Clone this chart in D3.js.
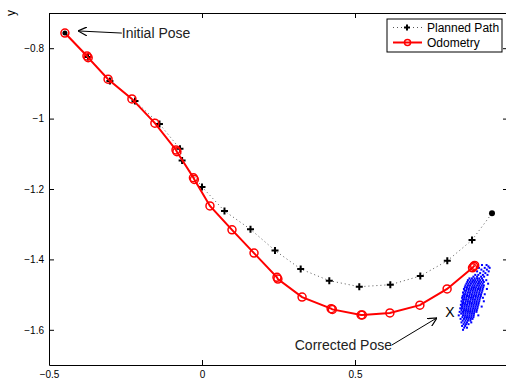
<!DOCTYPE html>
<html>
<head>
<meta charset="utf-8">
<script src="https://cdn.jsdelivr.net/npm/d3@7"></script>
<style>
  body { margin: 0; background: #fff; }
  text { font-family: "Liberation Sans", Arial, sans-serif; }
</style>
</head>
<body>
<svg id="chart" width="506" height="381"></svg>
<script>
// axis ranges and ticks
var xDomain = [-0.5, 1];
var yDomain = [-1.7, -0.7];
var xTicks = [-0.5, 0, 0.5, 1];
var yTicks = [-1.6, -1.4, -1.2, -1, -0.8];

// planned path (black + markers, dotted line)
var plannedPath = [
    [-0.448, -0.757], [-0.3725, -0.825], [-0.301, -0.893], [-0.219, -0.950],
    [-0.139, -1.015], [-0.072, -1.086], [-0.065, -1.119], [0.000, -1.194],
    [0.0735, -1.2625], [0.1585, -1.3145], [0.2386, -1.3747], [0.3225, -1.4273],
    [0.416, -1.4605], [0.514, -1.4776], [0.6154, -1.4719], [0.7134, -1.4472],
    [0.8016, -1.404], [0.8824, -1.3449], [0.9477, -1.269]
];

// odometry (red line with circles), some poses logged twice
var odometry = [
    [-0.448, -0.757], [-0.376, -0.822], [-0.372, -0.827], [-0.307, -0.888],
    [-0.229, -0.944], [-0.154, -1.013], [-0.085, -1.089], [-0.082, -1.094],
    [-0.028, -1.168], [-0.025, -1.173], [0.026, -1.248], [0.098, -1.316],
    [0.170, -1.382], [0.245, -1.451], [0.248, -1.456], [0.327, -1.507],
    [0.422, -1.540], [0.426, -1.542], [0.520, -1.558], [0.524, -1.558],
    [0.614, -1.552], [0.712, -1.530], [0.801, -1.484], [0.884, -1.424],
    [0.888, -1.420], [0.891, -1.417]
];

// particle cloud around the final pose, rows of [y, x, x, ...]
var particleRows = [
    [-1.416, 0.915, 0.930],
    [-1.420, 0.936],
    [-1.424, 0.905, 0.924, 0.940],
    [-1.429, 0.913, 0.931],
    [-1.434, 0.899, 0.920, 0.937],
    [-1.439, 0.909, 0.926],
    [-1.444, 0.893, 0.903, 0.918, 0.933],
    [-1.449, 0.887, 0.899, 0.912, 0.922],
    [-1.454, 0.874, 0.882, 0.891, 0.899, 0.906, 0.915],
    [-1.459, 0.869, 0.878, 0.886, 0.893, 0.901, 0.909, 0.918, 0.929],
    [-1.464, 0.867, 0.875, 0.883, 0.890, 0.897, 0.905, 0.913, 0.921],
    [-1.469, 0.864, 0.871, 0.879, 0.887, 0.894, 0.902, 0.909, 0.917, 0.935],
    [-1.474, 0.861, 0.869, 0.876, 0.884, 0.891, 0.899, 0.906, 0.914, 0.921],
    [-1.479, 0.859, 0.866, 0.874, 0.882, 0.889, 0.896, 0.904, 0.911, 0.919],
    [-1.484, 0.856, 0.865, 0.872, 0.880, 0.887, 0.894, 0.902, 0.909, 0.917, 0.931],
    [-1.489, 0.858, 0.863, 0.871, 0.878, 0.885, 0.893, 0.900, 0.908, 0.916],
    [-1.494, 0.853, 0.861, 0.869, 0.876, 0.884, 0.891, 0.898, 0.906, 0.914],
    [-1.499, 0.855, 0.860, 0.867, 0.875, 0.882, 0.890, 0.897, 0.905, 0.912, 0.924],
    [-1.504, 0.852, 0.858, 0.866, 0.873, 0.881, 0.888, 0.895, 0.903, 0.911],
    [-1.509, 0.850, 0.857, 0.864, 0.872, 0.879, 0.886, 0.894, 0.901, 0.909, 0.918],
    [-1.514, 0.852, 0.856, 0.863, 0.870, 0.878, 0.885, 0.892, 0.900, 0.907],
    [-1.519, 0.848, 0.854, 0.862, 0.869, 0.876, 0.884, 0.891, 0.898, 0.906, 0.921],
    [-1.524, 0.851, 0.853, 0.860, 0.868, 0.875, 0.882, 0.890, 0.897, 0.904],
    [-1.529, 0.846, 0.852, 0.859, 0.866, 0.874, 0.881, 0.888, 0.896, 0.903],
    [-1.534, 0.849, 0.851, 0.858, 0.865, 0.872, 0.880, 0.887, 0.894, 0.901, 0.914],
    [-1.539, 0.844, 0.850, 0.857, 0.864, 0.871, 0.878, 0.886, 0.893, 0.900],
    [-1.544, 0.848, 0.856, 0.863, 0.870, 0.877, 0.884, 0.891, 0.898],
    [-1.549, 0.842, 0.851, 0.855, 0.862, 0.869, 0.876, 0.883, 0.890, 0.897],
    [-1.554, 0.847, 0.854, 0.861, 0.868, 0.875, 0.882, 0.889],
    [-1.559, 0.839, 0.853, 0.860, 0.867, 0.874, 0.881, 0.888, 0.903],
    [-1.564, 0.851, 0.859, 0.866, 0.873, 0.880, 0.887],
    [-1.569, 0.845, 0.856, 0.864, 0.871, 0.878, 0.884],
    [-1.574, 0.852, 0.861, 0.869, 0.877],
    [-1.579, 0.848, 0.858, 0.866, 0.880],
    [-1.584, 0.855, 0.863, 0.871],
    [-1.589, 0.850, 0.860],
    [-1.594, 0.857, 0.866],
    [-1.600, 0.853]
];

// annotations: text position and arrow head
var initialLabel = { text: "Initial Pose", at: [-0.262, -0.757], head: [-0.405, -0.751] };
var correctedLabel = { text: "Corrected Pose", at: [0.621, -1.643], head: [0.768, -1.566] };
var correctedMark = [0.8105, -1.549];

var legendLabels = ["Planned Path", "Odometry"];

var svg = d3.select("#chart");
var margin = { left: 49, top: 13, right: 508, bottom: 365 };

var x = d3.scaleLinear().domain(xDomain).range([margin.left, margin.right]);
var y = d3.scaleLinear().domain(yDomain).range([margin.bottom, margin.top]);

var fmt = d3.format("");
// the label of the last x tick falls outside the window
var xFmt = function(d) { return d === 1 ? "" : fmt(d); };

// axes, ticks pointing inward like matlab
svg.append("g")
    .attr("transform", "translate(0," + margin.bottom + ")")
    .call(d3.axisBottom(x).tickValues(xTicks).tickSizeInner(-5).tickSizeOuter(0).tickPadding(6).tickFormat(xFmt));
svg.append("g")
    .attr("transform", "translate(" + margin.left + ",0)")
    .call(d3.axisLeft(y).tickValues(yTicks).tickSizeInner(-5).tickSizeOuter(0).tickPadding(5).tickFormat(fmt));
svg.append("g")
    .attr("transform", "translate(0," + margin.top + ")")
    .call(d3.axisTop(x).tickValues(xTicks).tickSizeInner(-5).tickSizeOuter(0).tickFormat(""));
svg.append("g")
    .attr("transform", "translate(" + margin.right + ",0)")
    .call(d3.axisRight(y).tickValues(yTicks).tickSizeInner(-5).tickSizeOuter(0).tickFormat(""));

svg.selectAll(".tick text").attr("font-size", 10).attr("fill", "#000")
    .style("font-family", "'Liberation Sans', Arial, sans-serif");
svg.selectAll(".domain").attr("stroke", "#000");

svg.append("text")
    .attr("transform", "translate(15,13) rotate(-90)")
    .attr("text-anchor", "middle")
    .attr("font-size", 12)
    .text("y");

var line = d3.line().x(d => x(d[0])).y(d => y(d[1]));

// planned path
svg.append("path")
    .datum(plannedPath)
    .attr("d", line)
    .attr("fill", "none")
    .attr("stroke", "#555")
    .attr("stroke-width", 1)
    .attr("stroke-dasharray", "1,3");

function plus(sel, size) {
    sel.append("path")
        .attr("d", "M" + (-size) + ",0H" + size + "M0," + (-size) + "V" + size)
        .attr("stroke", "#000")
        .attr("stroke-width", 2);
}

svg.append("g").selectAll("g")
    .data(plannedPath.slice(1, -1))
    .join("g")
    .attr("transform", d => "translate(" + x(d[0]) + "," + y(d[1]) + ")")
    .call(plus, 3.5);

// goal pose marker
svg.append("circle")
    .attr("cx", x(plannedPath[plannedPath.length - 1][0]))
    .attr("cy", y(plannedPath[plannedPath.length - 1][1]))
    .attr("r", 3)
    .attr("fill", "#000");

// particles
var particles = [];
particleRows.forEach(function(row) {
    for (var i = 1; i < row.length; i++) particles.push([row[i], row[0]]);
});
svg.append("g").selectAll("rect")
    .data(particles)
    .join("rect")
    .attr("x", d => x(d[0]) - 1)
    .attr("y", d => y(d[1]) - 1)
    .attr("width", 2)
    .attr("height", 2)
    .attr("fill", "#0000ff");

// odometry
svg.append("path")
    .datum(odometry)
    .attr("d", line)
    .attr("fill", "none")
    .attr("stroke", "#ff0000")
    .attr("stroke-width", 2);

svg.append("g").selectAll("circle")
    .data(odometry)
    .join("circle")
    .attr("cx", d => x(d[0]))
    .attr("cy", d => y(d[1]))
    .attr("r", 4)
    .attr("fill", "none")
    .attr("stroke", "#ff0000")
    .attr("stroke-width", 1.5);

// start pose
svg.append("circle")
    .attr("cx", x(plannedPath[0][0]))
    .attr("cy", y(plannedPath[0][1]))
    .attr("r", 2.5)
    .attr("fill", "#000");

// arrow marker
svg.append("defs").append("marker")
    .attr("id", "arrow")
    .attr("viewBox", "0 0 10 10")
    .attr("refX", 10).attr("refY", 5)
    .attr("markerWidth", 9).attr("markerHeight", 9)
    .attr("markerUnits", "userSpaceOnUse")
    .attr("orient", "auto")
    .append("path")
    .attr("d", "M0,0L10,5L0,10")
    .attr("fill", "none")
    .attr("stroke", "#000")
    .attr("stroke-width", 1.3);

function annotate(a, anchor) {
    svg.append("line")
        .attr("x1", x(a.at[0])).attr("y1", y(a.at[1]))
        .attr("x2", x(a.head[0])).attr("y2", y(a.head[1]))
        .attr("stroke", "#000")
        .attr("stroke-width", 1)
        .attr("marker-end", "url(#arrow)");
    svg.append("text")
        .attr("x", x(a.at[0]))
        .attr("y", y(a.at[1]))
        .attr("dy", "0.35em")
        .attr("text-anchor", anchor)
        .attr("font-size", 14)
        .attr("fill", "#222")
        .text(a.text);
}
annotate(initialLabel, "start");
annotate(correctedLabel, "end");

svg.append("text")
    .attr("x", x(correctedMark[0]))
    .attr("y", y(correctedMark[1]))
    .attr("dy", "0.36em")
    .attr("text-anchor", "middle")
    .attr("font-size", 14)
    .text("X");

// legend
var lg = svg.append("g").attr("transform", "translate(387,19)");
lg.append("rect")
    .attr("width", 115).attr("height", 33)
    .attr("fill", "#fff")
    .attr("stroke", "#000")
    .attr("stroke-width", 1);

lg.append("line")
    .attr("x1", 6).attr("x2", 35).attr("y1", 8.5).attr("y2", 8.5)
    .attr("stroke", "#555").attr("stroke-dasharray", "1,3");
lg.append("g").attr("transform", "translate(20,8.5)").call(plus, 3);

lg.append("line")
    .attr("x1", 6).attr("x2", 35).attr("y1", 23.5).attr("y2", 23.5)
    .attr("stroke", "#ff0000").attr("stroke-width", 2);
lg.append("circle")
    .attr("cx", 20.5).attr("cy", 23.5).attr("r", 3)
    .attr("fill", "none").attr("stroke", "#ff0000").attr("stroke-width", 1.5);

lg.selectAll("text.lab")
    .data(legendLabels)
    .join("text")
    .attr("class", "lab")
    .attr("x", 40)
    .attr("y", (d, i) => 8.5 + i * 15)
    .attr("dy", "0.35em")
    .attr("font-size", 12)
    .text(d => d);
</script>
</body>
</html>
